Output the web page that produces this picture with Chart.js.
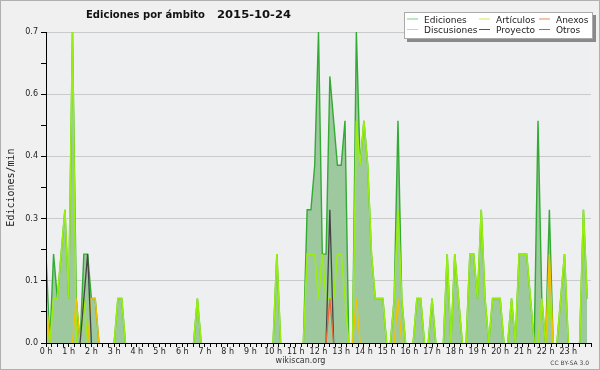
<!DOCTYPE html>
<html>
<head>
<meta charset="utf-8">
<script src="https://cdn.jsdelivr.net/npm/chart.js@4.4.1/dist/chart.umd.min.js"></script>
<style>
    html, body { margin: 0; padding: 0; background: #f0f0f0; }
    canvas { display: block; }
</style>
</head>
<body>
<canvas id="chart" width="600" height="370"></canvas>
<script>
// edits per minute, one value per 10-minute slot (144 slots, 00:00 -> 23:50)
const ediciones = [
    0.2, 0, 0.2, 0.1, 0.2, 0.3, 0.1, 0.7, 0.1, 0, 0.2, 0.2,
    0.1, 0.1, 0, 0, 0, 0, 0, 0.1, 0.1, 0, 0, 0,
    0, 0, 0, 0, 0, 0, 0, 0, 0, 0, 0, 0,
    0, 0, 0, 0, 0.1, 0, 0, 0, 0, 0, 0, 0,
    0, 0, 0, 0, 0, 0, 0, 0, 0, 0, 0, 0,
    0, 0.2, 0, 0, 0, 0, 0, 0, 0, 0.3, 0.3, 0.4,
    0.7, 0.2, 0.2, 0.6, 0.5, 0.4, 0.4, 0.5, 0, 0, 0.7, 0.4,
    0.5, 0.4, 0.2, 0.1, 0.1, 0.1, 0, 0, 0.1, 0.5, 0.1, 0,
    0, 0, 0.1, 0.1, 0, 0, 0.1, 0, 0, 0, 0.2, 0,
    0.2, 0.1, 0, 0, 0.2, 0.2, 0.1, 0.3, 0.1, 0, 0.1, 0.1,
    0.1, 0, 0, 0.1, 0, 0.2, 0.2, 0.2, 0.1, 0, 0.5, 0.1,
    0, 0.3, 0, 0, 0.1, 0.2, 0, 0, 0, 0, 0.3, 0.1
];
const articulos = [
    0.1, 0, 0.1, 0.1, 0.2, 0.3, 0.1, 0.7, 0, 0, 0.1, 0,
    0, 0, 0, 0, 0, 0, 0, 0.1, 0.1, 0, 0, 0,
    0, 0, 0, 0, 0, 0, 0, 0, 0, 0, 0, 0,
    0, 0, 0, 0, 0.1, 0, 0, 0, 0, 0, 0, 0,
    0, 0, 0, 0, 0, 0, 0, 0, 0, 0, 0, 0,
    0, 0.2, 0, 0, 0, 0, 0, 0, 0, 0.2, 0.2, 0.2,
    0.1, 0.2, 0.1, 0.1, 0.1, 0.2, 0.2, 0.1, 0, 0, 0.5, 0.4,
    0.5, 0.4, 0.2, 0.1, 0.1, 0.1, 0, 0, 0.1, 0.3, 0.1, 0,
    0, 0, 0.1, 0.1, 0, 0, 0.1, 0, 0, 0, 0.2, 0,
    0.2, 0.1, 0, 0, 0.2, 0.2, 0.1, 0.3, 0.1, 0, 0.1, 0.1,
    0.1, 0, 0, 0.1, 0, 0.2, 0.2, 0.2, 0.1, 0, 0, 0.1,
    0, 0.1, 0, 0, 0.1, 0.2, 0, 0, 0, 0, 0.3, 0.1
];
const anexos = [
    0, 0, 0, 0, 0, 0, 0, 0, 0, 0, 0, 0,
    0, 0, 0, 0, 0, 0, 0, 0, 0, 0, 0, 0,
    0, 0, 0, 0, 0, 0, 0, 0, 0, 0, 0, 0,
    0, 0, 0, 0, 0, 0, 0, 0, 0, 0, 0, 0,
    0, 0, 0, 0, 0, 0, 0, 0, 0, 0, 0, 0,
    0, 0, 0, 0, 0, 0, 0, 0, 0, 0, 0, 0,
    0, 0, 0, 0.1, 0, 0, 0, 0, 0, 0, 0, 0,
    0, 0, 0, 0, 0, 0, 0, 0, 0, 0, 0, 0,
    0, 0, 0, 0, 0, 0, 0, 0, 0, 0, 0, 0,
    0, 0, 0, 0, 0, 0, 0, 0, 0, 0, 0, 0,
    0, 0, 0, 0, 0, 0, 0, 0, 0, 0, 0, 0,
    0, 0, 0, 0, 0, 0, 0, 0, 0, 0, 0, 0
];
const discusiones = [
    0.1, 0, 0, 0, 0, 0, 0, 0, 0.1, 0, 0, 0,
    0.1, 0.1, 0, 0, 0, 0, 0, 0, 0, 0, 0, 0,
    0, 0, 0, 0, 0, 0, 0, 0, 0, 0, 0, 0,
    0, 0, 0, 0, 0, 0, 0, 0, 0, 0, 0, 0,
    0, 0, 0, 0, 0, 0, 0, 0, 0, 0, 0, 0,
    0, 0, 0, 0, 0, 0, 0, 0, 0, 0, 0, 0,
    0, 0, 0, 0, 0, 0, 0, 0, 0, 0, 0.1, 0,
    0, 0, 0, 0, 0, 0, 0, 0, 0, 0.1, 0, 0,
    0, 0, 0, 0, 0, 0, 0, 0, 0, 0, 0, 0,
    0, 0, 0, 0, 0, 0, 0, 0, 0, 0, 0, 0,
    0, 0, 0, 0, 0, 0, 0, 0, 0, 0, 0, 0,
    0, 0.2, 0, 0, 0, 0, 0, 0, 0, 0, 0, 0
];
const proyecto = [
    0, 0, 0, 0, 0, 0, 0, 0, 0, 0, 0.1, 0.2,
    0, 0, 0, 0, 0, 0, 0, 0, 0, 0, 0, 0,
    0, 0, 0, 0, 0, 0, 0, 0, 0, 0, 0, 0,
    0, 0, 0, 0, 0, 0, 0, 0, 0, 0, 0, 0,
    0, 0, 0, 0, 0, 0, 0, 0, 0, 0, 0, 0,
    0, 0, 0, 0, 0, 0, 0, 0, 0, 0, 0, 0,
    0, 0, 0, 0.3, 0, 0, 0, 0, 0, 0, 0, 0,
    0, 0, 0, 0, 0, 0, 0, 0, 0, 0, 0, 0,
    0, 0, 0, 0, 0, 0, 0, 0, 0, 0, 0, 0,
    0, 0, 0, 0, 0, 0, 0, 0, 0, 0, 0, 0,
    0, 0, 0, 0, 0, 0, 0, 0, 0, 0, 0, 0,
    0, 0, 0, 0, 0, 0, 0, 0, 0, 0, 0, 0
];
const otros = new Array(144).fill(0);

const legendNames = ['Ediciones', 'Artículos', 'Anexos', 'Discusiones', 'Proyecto', 'Otros'];
const legendColors = ['#7fcf7f', '#c8ee55', '#ee8855', '#ffcc44', '#555555', '#9955ee'];
const title = 'Ediciones por ámbito';
const titleDate = '2015-10-24';

// slot start in hours
const slots = ediciones.map((_, i) => i / 6);
const toPoints = values => values.map((v, i) => ({x: slots[i], y: v}));

// hide the flat runs at zero so they don't paint over the x axis
const hideZero = c => (c.p0.parsed.y === 0 && c.p1.parsed.y === 0) ? 'rgba(0,0,0,0)' : undefined;

function series(label, values, color, width, order) {
    return {
        label: label,
        data: toPoints(values),
        borderColor: color,
        borderWidth: width,
        pointRadius: 0,
        tension: 0,
        fill: false,
        order: order,
        segment: {borderColor: hideZero}
    };
}

const datasets = [
    Object.assign(series('Ediciones', ediciones, '#33aa33', 1.4, 6), {fill: 'origin', backgroundColor: '#9ec99e'}),
    series('Artículos', articulos, '#99ee11', 1.6, 5),
    series('Discusiones', discusiones, '#eec400', 1.4, 4),
    series('Proyecto', proyecto, '#444444', 1.3, 3),
    series('Anexos', anexos, '#ee6633', 1.3, 2),
    series('Otros', otros, '#9944ee', 1.3, 1)
];

const decor = {
    id: 'decor',
    beforeDraw(chart) {
        const c = chart.ctx, a = chart.chartArea;
        c.save();
        c.fillStyle = '#f0f0f0';
        c.fillRect(0, 0, chart.width, chart.height);
        c.fillStyle = '#edeff1';
        c.fillRect(a.left, a.top, a.right - a.left, a.bottom - a.top);
        c.restore();
    },
    afterDatasetsDraw(chart) {
        // axis lines on top of the area
        const c = chart.ctx, a = chart.chartArea;
        c.save();
        c.strokeStyle = '#000';
        c.lineWidth = 1;
        c.beginPath();
        c.moveTo(a.left + 0.5, a.top);
        c.lineTo(a.left + 0.5, a.bottom + 0.5);
        c.lineTo(a.right, a.bottom + 0.5);
        c.stroke();
        c.restore();
    },
    afterDraw(chart) {
        const c = chart.ctx, a = chart.chartArea;
        c.save();

        // title, two pieces stretched to the reference widths
        c.fillStyle = '#111';
        c.font = 'bold 11px "DejaVu Sans"';
        c.textBaseline = 'alphabetic';
        c.textAlign = 'left';
        const fitText = (txt, x, y, w) => {
            const m = c.measureText(txt).width;
            c.save();
            c.translate(x, y);
            c.scale(w / m, 1);
            c.fillText(txt, 0, 0);
            c.restore();
        };
        fitText(title, 86, 17.5, 119);
        fitText(titleDate, 217, 17.5, 74);

        // y axis title
        c.save();
        c.translate(11, (a.top + a.bottom) / 2);
        c.rotate(-Math.PI / 2);
        c.font = '10px "DejaVu Sans Mono"';
        c.textAlign = 'center';
        c.textBaseline = 'middle';
        c.fillStyle = '#222';
        c.fillText('Ediciones/min', 0, 0);
        c.restore();

        // legend box with shadow
        c.fillStyle = '#8a8a8a';
        c.fillRect(407, 15, 189, 27);
        c.fillStyle = '#fff';
        c.fillRect(404, 12, 189, 27);
        c.strokeStyle = '#aaa';
        c.lineWidth = 1;
        c.strokeRect(404.5, 12.5, 188, 26);
        const cols = [407, 479, 539];
        const rows = [19, 29.5];
        c.font = '9px "DejaVu Sans"';
        c.textBaseline = 'alphabetic';
        legendNames.forEach((name, i) => {
            const x = cols[i % 3], y = rows[Math.floor(i / 3)];
            c.strokeStyle = legendColors[i];
            c.beginPath();
            c.moveTo(x, y);
            c.lineTo(x + 11, y);
            c.stroke();
            c.fillStyle = '#222';
            c.fillText(name, x + 17, y + 3.5);
        });

        // footer
        c.fillStyle = '#333';
        c.font = '8px "DejaVu Sans"';
        c.textAlign = 'center';
        c.fillText('wikiscan.org', 300.5, 363);
        c.font = '6px "DejaVu Sans"';
        c.textAlign = 'right';
        c.fillStyle = '#444';
        c.fillText('CC BY-SA 3.0', 589, 365);

        // frame
        c.strokeStyle = '#b0b0b0';
        c.strokeRect(0.5, 0.5, chart.width - 1, chart.height - 1);
        c.restore();
    }
};

const ctx = document.getElementById('chart').getContext('2d');
new Chart(ctx, {
    type: 'line',
    data: {datasets: datasets},
    options: {
        responsive: false,
        animation: false,
        devicePixelRatio: 1,
        layout: {padding: {left: 0, top: 32, right: 9, bottom: 0}},
        plugins: {
            legend: {display: false},
            tooltip: {enabled: false}
        },
        scales: {
            x: {
                type: 'linear',
                min: 0,
                max: 24,
                afterFit: s => { s.height = 27; },
                border: {color: '#000'},
                grid: {drawOnChartArea: false, tickLength: 4, tickColor: '#000'},
                ticks: {
                    stepSize: 0.25,
                    autoSkip: false,
                    maxRotation: 0,
                    minRotation: 0,
                    padding: 0,
                    color: '#222',
                    font: {family: 'DejaVu Sans', size: 8},
                    callback: v => (Number.isInteger(v) && v < 24) ? v + ' h' : ''
                }
            },
            y: {
                min: 0,
                max: 0.7,
                afterFit: s => { s.width = 46; },
                border: {color: '#000'},
                grid: {
                    color: g => (g.index % 2 === 0 && g.index > 0) ? '#cacaca' : 'rgba(0,0,0,0)',
                    tickColor: '#000',
                    tickLength: 5
                },
                ticks: {
                    stepSize: 0.07,
                    padding: 3,
                    color: '#222',
                    font: {family: 'DejaVu Sans', size: 8},
                    callback: (v, i) => i % 2 === 0 ? v.toFixed(1) : ''
                }
            }
        }
    },
    plugins: [decor]
});
</script>
</body>
</html>
